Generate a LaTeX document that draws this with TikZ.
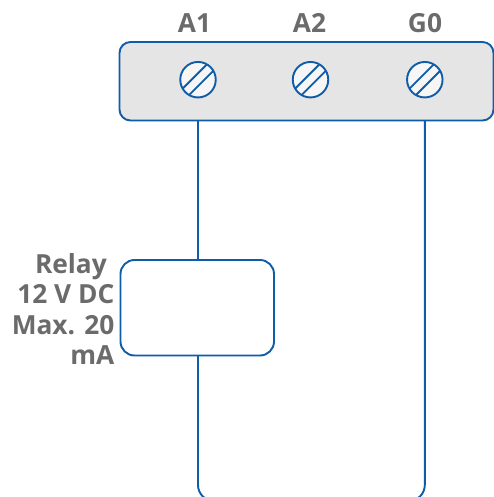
\documentclass[tikz,border=0pt]{standalone}
\usepackage{fontspec}
\setmainfont{Open Sans}
\definecolor{wire}{HTML}{0F5CA8}
\definecolor{label}{HTML}{6B6B6B}
\definecolor{panel}{HTML}{E5E5E5}
\definecolor{screwface}{HTML}{F6F6F6}
\tikzset{
  px/.style={x=1pt,y=-1pt},
  wireline/.style={draw=wire,line width=1.9pt,outer sep=0pt},
  txt/.style={text=label,font=\fontsize{26.3}{30.6}\selectfont\bfseries,inner sep=0pt},
  screw/.style={circle,draw=wire,fill=screwface,line width=1.9pt,minimum size=35.5pt,inner sep=0pt,
    path picture={\draw[wire,line width=1.9pt]
      ($(path picture bounding box.center)+(-16,16)+(-3.2,-3.2)$)--+(32,-32)
      ($(path picture bounding box.center)+(-16,16)+(3.2,3.2)$)--+(32,-32);}},
}
\usetikzlibrary{calc}
\begin{document}
\begin{tikzpicture}[px]
\useasboundingbox (0,0) rectangle (494,497);
\node[wireline,fill=panel,rounded corners=11pt,minimum width=374pt,minimum height=78.5pt,inner sep=0pt,anchor=north west] (strip) at (119.5,42) {};
\node[screw] (s1) at (198,79.7) {};
\node[screw] (s2) at (310.5,79.7) {};
\node[screw] (s3) at (424.8,79.7) {};
\node[txt,anchor=base] (la1) at (194.5,33) {A1};
\node[txt,anchor=base] (la2) at (309.5,33) {A2};
\node[txt,anchor=base] (lg0) at (425,33) {G0};
\node[wireline,fill=white,rounded corners=14pt,minimum width=153.5pt,minimum height=95.5pt,inner sep=0pt,anchor=north west] (relay) at (120.5,260) {};
\node[txt,align=right,anchor=north east] (rl) at (114.5,253) {Relay\hspace*{7.5pt}\\12 V DC\\Max. 20\\mA};
\coordinate (t1) at (s1 |- strip.south);
\coordinate (t3) at (s3 |- strip.south);
\coordinate (r1) at (s1 |- relay.north);
\coordinate (r2) at (s1 |- relay.south);
\coordinate (bl) at (198,501);
\coordinate (br) at (424.8,501);
\draw[wireline] (t1) -- (r1);
\draw[wireline,rounded corners=16pt] (r2) -- (bl) -- (br) -- (t3);
\end{tikzpicture}
\end{document}
